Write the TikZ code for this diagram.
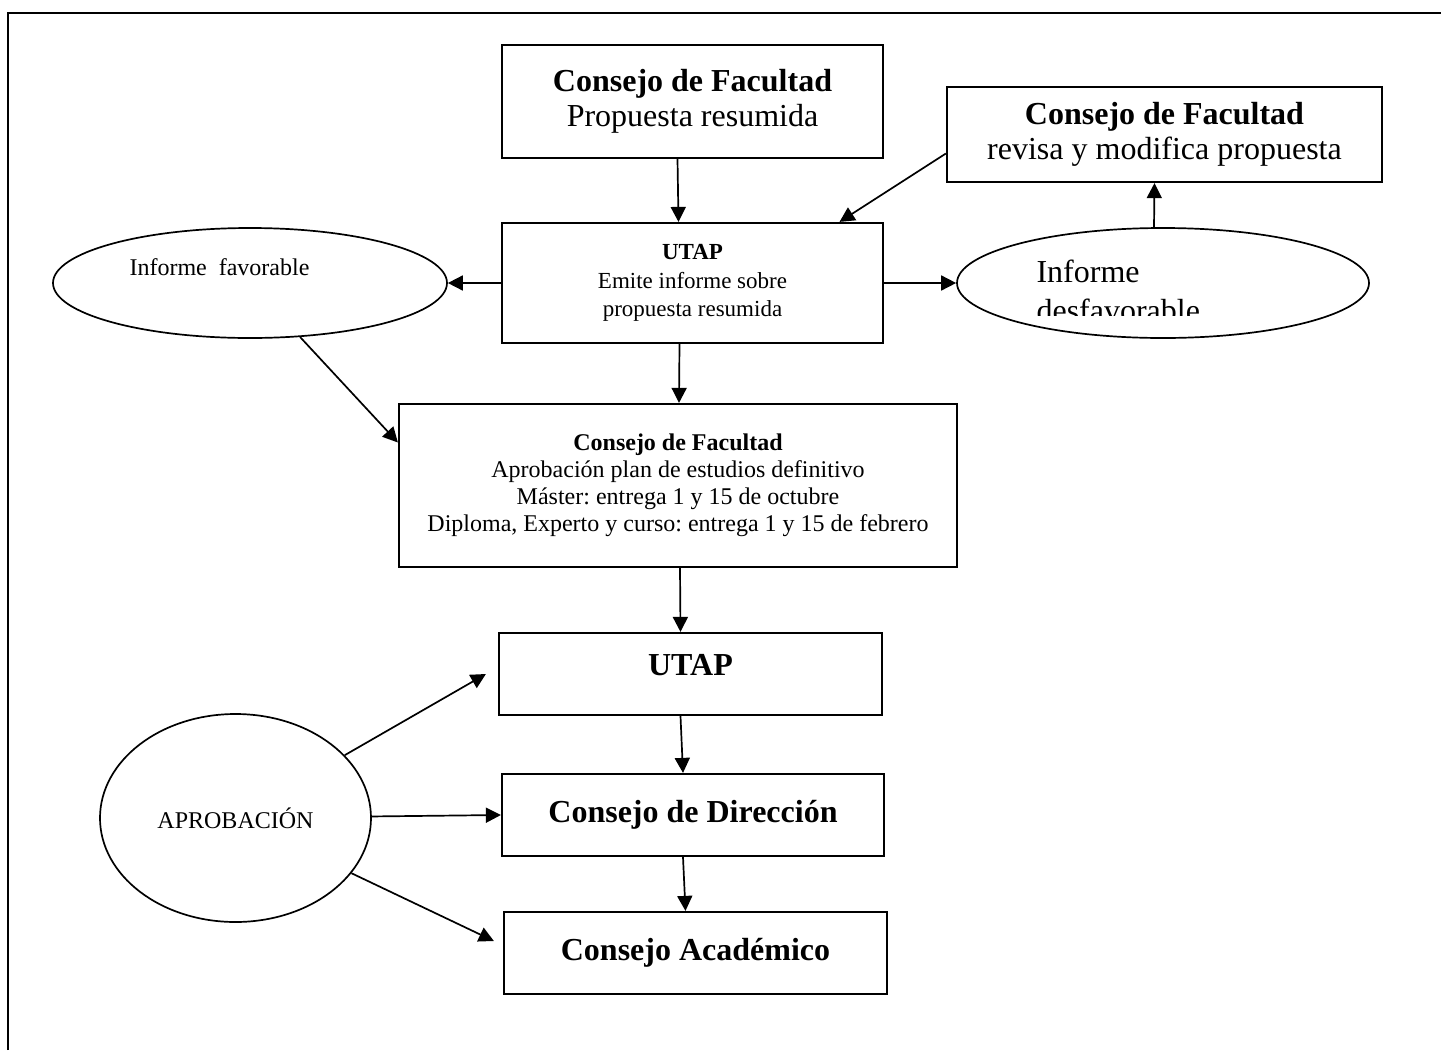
\documentclass[tikz,border=0pt]{standalone}
\usepackage{fontspec}
\setmainfont{Liberation Serif}
\usetikzlibrary{arrows.meta,shapes.geometric}
\frenchspacing

\begin{document}
\begin{tikzpicture}[
  x = 1pt,
  y = -1pt,
  box/.style = {
    shape = rectangle,
    draw,
    line width = 2.2pt,
    inner sep = 0pt,
    align = center,
  },
  oval/.style = {
    shape = ellipse,
    draw,
    line width = 1.7pt,
    inner sep = 0pt,
  },
  big/.style = {
    font = \fontsize{32}{35.5}\selectfont
  },
  mid/.style = {
    font = \fontsize{24}{27}\selectfont
  },
  arr/.style = {
    line width = 1.7pt,
    -{Triangle[length = 15pt, width = 15pt]}
  }
]
  \useasboundingbox (0, 0) rectangle (1441, 1050);
  \draw[line width = 2pt] (8, 1050) -- (8, 13) -- (1441, 13);

  \node[box, big, minimum width = 381pt, minimum height = 113pt] (fac1) at (692.5, 101.5)
    {\textbf{Consejo de Facultad}\\Propuesta resumida};
  \node[box, big, minimum width = 435pt, minimum height = 95pt] (fac2) at (1164.5, 134.5)
    {\textbf{Consejo de Facultad}\\revisa y modifica propuesta};
  \node[box, font = \fontsize{23}{28.5}\selectfont, minimum width = 381pt, minimum height = 120pt] (utap1) at (692.5, 283)
    {\textbf{UTAP}\\Emite informe sobre\\propuesta resumida};

  \node[oval, minimum width = 394pt, minimum height = 110pt] (fav) at (250, 283) {};
  \node[mid, anchor = base west] (favtxt) at (126, 275) {Informe\ \ favorable};

  \node[oval, minimum width = 412pt, minimum height = 110pt] (desf) at (1163, 283) {};
  \begin{scope}
    \clip (950, 220) rectangle (1380, 315);
    \node[big, anchor = base west] (desf1) at (1033, 282) {Informe};
    \node[big, anchor = base west] (desf2) at (1033, 321) {desfavorable};
  \end{scope}

  \node[box, mid, minimum width = 558pt, minimum height = 163pt] (fac3) at (678, 485.5)
    {\textbf{Consejo de Facultad}\\Aprobación plan de estudios definitivo\\Máster: entrega 1 y 15 de octubre\\Diploma, Experto y curso: entrega 1 y 15 de febrero};

  \node[box, big, minimum width = 383pt, minimum height = 82pt, text depth = 19pt] (utap2) at (690.5, 674) {\textbf{UTAP}};
  \node[box, big, minimum width = 382pt, minimum height = 82pt] (dir) at (693, 815) {\textbf{Consejo de Dirección}};
  \node[box, big, minimum width = 383pt, minimum height = 82pt] (acad) at (695.5, 953) {\textbf{Consejo Académico}};

  \node[oval, mid, minimum width = 271pt, minimum height = 208pt] (aprob) at (235.5, 818) {APROBACIÓN};

  \draw[arr] ([xshift = -15pt]fac1.south) -- ([xshift = -14pt]utap1.north);
  \draw[arr] ([yshift = -19pt]fac2.west) -- ([xshift = 147pt]utap1.north);
  \draw[arr] ([xshift = -9pt]desf.north) -- ([xshift = -10pt]fac2.south);
  \draw[arr] (utap1.west) -- (fav.east);
  \draw[arr] (utap1.east) -- (desf.west);
  \draw[arr] (fav) -- ([yshift = 43pt]fac3.west);
  \draw[arr] ([xshift = -13pt]utap1.south) -- ([xshift = 1pt]fac3.north);
  \draw[arr] ([xshift = 2pt]fac3.south) -- ([xshift = -10pt]utap2.north);
  \draw[arr] ([xshift = -10pt]utap2.south) -- ([xshift = -10pt]dir.north);
  \draw[arr] ([xshift = -10pt]dir.south) -- ([xshift = -10pt]acad.north);

  \draw[arr] (aprob) -- ([xshift = -12pt]utap2.west);
  \draw[arr] (aprob) -- (dir.west);
  \draw[arr] (aprob) -- ([xshift = -9pt, yshift = 12pt]acad.west);
\end{tikzpicture}
\end{document}
